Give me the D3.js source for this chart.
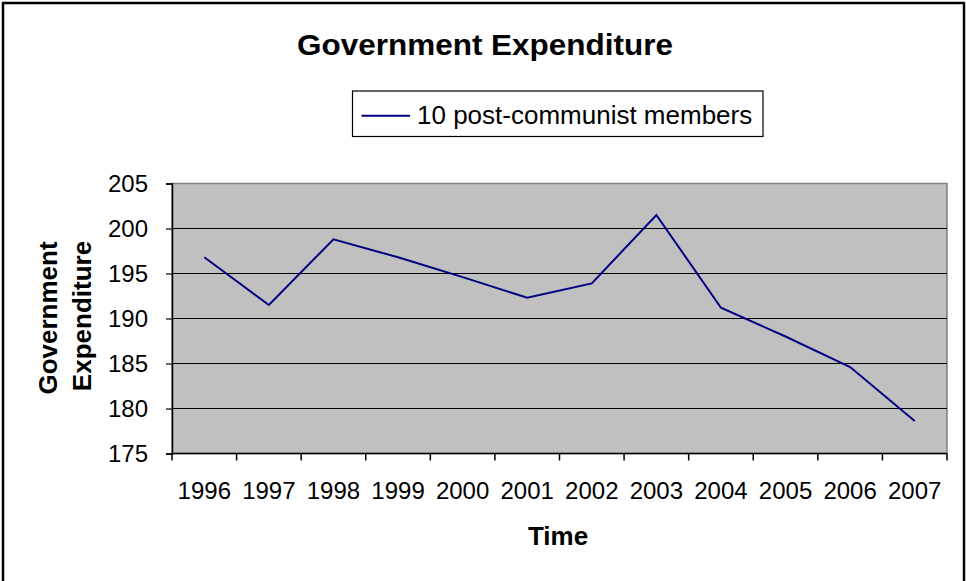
<!DOCTYPE html>
<html><head><meta charset="utf-8">
<script src="https://cdn.jsdelivr.net/npm/d3@7"></script>
<style>body{margin:0;background:#fff}svg{display:block}text{font-family:"Liberation Sans",Arial,sans-serif}</style>
</head><body>
<script>
const years = ["1996","1997","1998","1999","2000","2001","2002","2003","2004","2005","2006","2007"];
const values = [196.8,191.5,198.8,196.8,194.6,192.3,193.9,201.5,191.2,188.0,184.6,178.6];
const yTicks = [175,180,185,190,195,200,205];
const seriesName = "10 post-communist members";

const W=966,H=581;
const svg=d3.select("body").append("svg").attr("width",W).attr("height",H);
svg.append("rect").attr("x",3).attr("y",3).attr("width",961).attr("height",600).attr("fill","#fff").attr("stroke","#000").attr("stroke-width",2.5);

const L=172,R=947,T=183.5,B=453.5;
const x=d3.scaleBand().domain(years).range([L,R]).padding(0);
const y=d3.scaleLinear().domain([175,205]).range([B,T]);

svg.append("rect").attr("x",L).attr("y",T).attr("width",R-L).attr("height",B-T).attr("fill","#c0c0c0").attr("stroke","#808080").attr("stroke-width",1.5);

svg.append("g").selectAll("line").data(yTicks.filter(d=>d>175&&d<205)).join("line")
 .attr("x1",L).attr("x2",R).attr("y1",d=>y(d)).attr("y2",d=>y(d)).attr("stroke","#000").attr("stroke-width",1);

// y axis
const ya=svg.append("g").attr("transform",`translate(${L},0)`).call(d3.axisLeft(y).tickValues(yTicks).tickSize(6).tickPadding(18));
ya.select(".domain").attr("stroke","#000").attr("stroke-width",1.5);
ya.selectAll(".tick line").attr("stroke-width",1.2);
ya.selectAll("text").attr("font-size",24).attr("fill","#000").attr("font-family","Liberation Sans, Arial, sans-serif");
// x axis
const xa=svg.append("g").attr("transform",`translate(0,${B})`);
xa.append("line").attr("x1",L).attr("x2",R).attr("stroke","#000").attr("stroke-width",1.5);
const edges=years.map(d=>x(d)).concat([x(years[years.length-1])+x.bandwidth()]);
xa.selectAll("line.t").data(edges).join("line").attr("class","t").attr("x1",d=>d).attr("x2",d=>d).attr("y1",0).attr("y2",7).attr("stroke","#000").attr("stroke-width",1.5);
xa.selectAll("text").data(years).join("text").attr("x",d=>x(d)+x.bandwidth()/2).attr("y",45.5).attr("text-anchor","middle").attr("font-size",24).text(d=>d);

const line=d3.line().x((d,i)=>x(years[i])+x.bandwidth()/2).y(d=>y(d));
svg.append("path").datum(values).attr("d",line).attr("fill","none").attr("stroke","#000080").attr("stroke-width",2);

svg.append("text").attr("x",485).attr("y",55).attr("text-anchor","middle").attr("font-size",30).attr("font-weight","bold")
  .attr("textLength",376).attr("lengthAdjust","spacingAndGlyphs").text("Government Expenditure");
svg.append("text").attr("x",558).attr("y",545).attr("text-anchor","middle").attr("font-size",26).attr("font-weight","bold").text("Time");
svg.append("text").attr("transform","translate(57,318) rotate(-90)").attr("text-anchor","middle").attr("font-size",26).attr("font-weight","bold").text("Government");
svg.append("text").attr("transform","translate(91,316) rotate(-90)").attr("text-anchor","middle").attr("font-size",26).attr("font-weight","bold").text("Expenditure");

const lg=svg.append("g");
lg.append("rect").attr("x",352.5).attr("y",91).attr("width",410.5).attr("height",45.5).attr("fill","#fff").attr("stroke","#000").attr("stroke-width",1.2);
lg.append("line").attr("x1",361.5).attr("x2",410).attr("y1",115.7).attr("y2",115.7).attr("stroke","#000080").attr("stroke-width",2);
lg.append("text").attr("x",417).attr("y",124).attr("font-size",26).text(seriesName);
</script>
</body></html>
